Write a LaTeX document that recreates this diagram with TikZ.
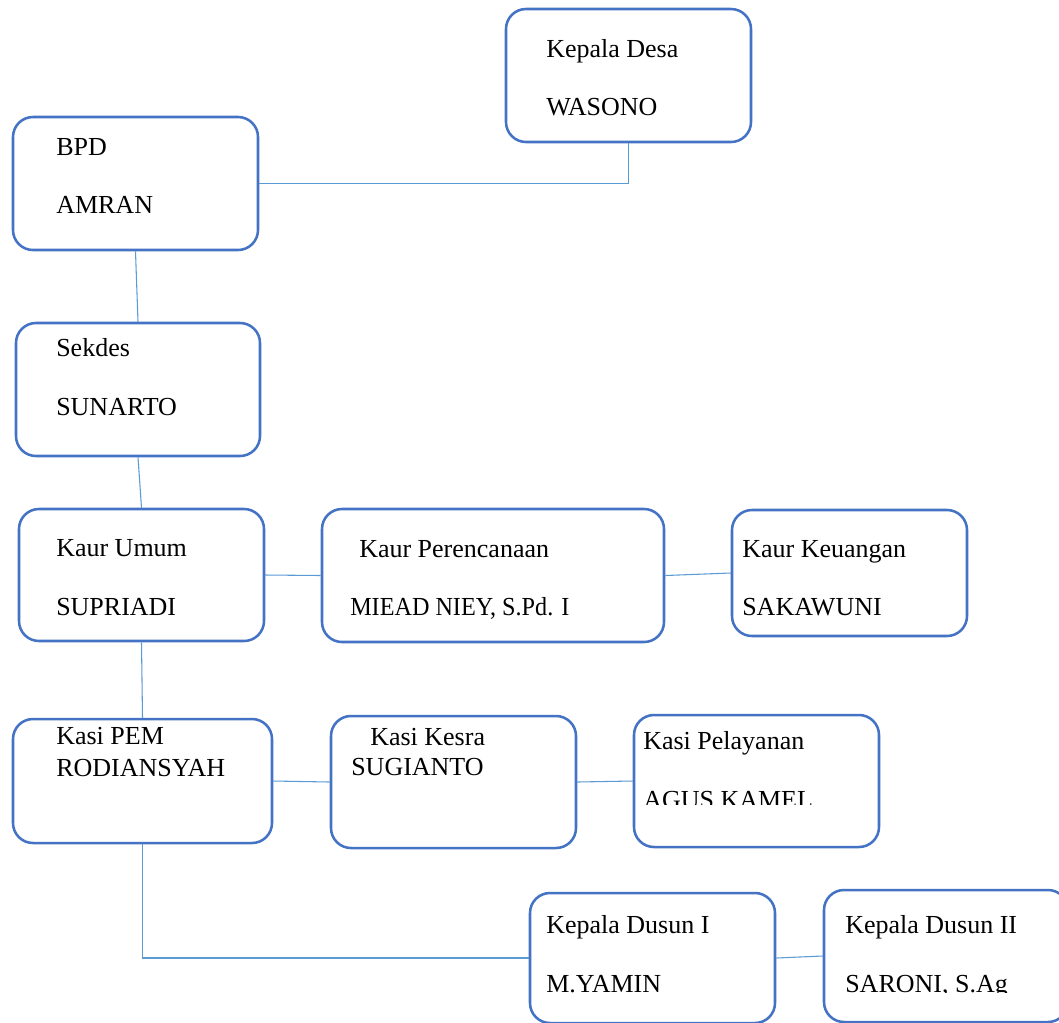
\documentclass[tikz,border=0pt]{standalone}
\usepackage{fontspec}
\setmainfont{Liberation Serif}
\definecolor{boxblue}{HTML}{4472C4}
\definecolor{linkblue}{HTML}{5B9BD5}
\begin{document}
\begin{tikzpicture}[x=0.75pt,y=-0.75pt,
  box/.style={draw=boxblue,line width=1.9pt,rounded corners=15pt,fill=white,inner sep=0pt},
  link/.style={draw=linkblue,line width=0.8pt},
  lbl/.style={anchor=base west,inner sep=0pt,font=\fontsize{19.5pt}{23pt}\selectfont}]
\clip (0,0) rectangle (1059,1022);
\fill[white] (0,0) rectangle (1059,1022);
% boxes
\node[box,minimum width=245*0.75pt,minimum height=133*0.75pt] (desa) at (628.5,75.5) {};
\node[box,minimum width=245*0.75pt,minimum height=133*0.75pt] (bpd) at (135.5,183.5) {};
\node[box,minimum width=244*0.75pt,minimum height=133*0.75pt] (sekdes) at (138,389.5) {};
\node[box,minimum width=245*0.75pt,minimum height=132*0.75pt] (kumum) at (141.5,575) {};
\node[box,minimum width=342*0.75pt,minimum height=133*0.75pt] (kperen) at (493,575.5) {};
\node[box,minimum width=235*0.75pt,minimum height=126*0.75pt] (kkeu) at (849.5,573) {};
\node[box,minimum width=259*0.75pt,minimum height=124*0.75pt] (kpem) at (142.5,781) {};
\node[box,minimum width=245*0.75pt,minimum height=132*0.75pt] (kkesra) at (453.5,782) {};
\node[box,minimum width=245*0.75pt,minimum height=132*0.75pt] (kpel) at (756.5,781) {};
\node[box,minimum width=245*0.75pt,minimum height=130*0.75pt] (dusun1) at (652.5,958) {};
\node[box,minimum width=244*0.75pt,minimum height=132*0.75pt] (dusun2) at (946,956) {};
% connectors
\draw[link] (bpd.east) -| (desa.south);
\draw[link] (bpd.south) -- (sekdes.north);
\draw[link] (sekdes.south) -- (kumum.north);
\draw[link] (kumum.east) -- (kperen.west);
\draw[link] (kperen.east) -- (kkeu.west);
\draw[link] (kumum.south) -- (kpem.north);
\draw[link] (kpem.east) -- (kkesra.west);
\draw[link] (kkesra.east) -- (kpel.west);
\draw[link] (kpem.south) |- (dusun1.west);
\draw[link] (dusun1.east) -- (dusun2.west);
% labels
\node[lbl] (t1) at (546,57) {Kepala Desa};
\node[lbl] (t2) at (546,115) {WASONO};
\node[lbl] (t3) at (56,155) {BPD};
\node[lbl] (t4) at (56,213) {AMRAN};
\node[lbl] (t5) at (56,356) {Sekdes};
\node[lbl] (t6) at (56,415) {SUNARTO};
\node[lbl] (t7) at (56,556) {Kaur Umum};
\node[lbl] (t8) at (56,615) {SUPRIADI};
\node[lbl] (t9) at (359,557) {Kaur Perencanaan};
\node[lbl,xscale=0.93] (t10) at (350,615) {MIEAD NIEY, S.Pd. I};
\node[lbl] (t11) at (742,557) {Kaur Keuangan};
\node[lbl] (t12) at (742,615) {SAKAWUNI};
\node[lbl] (t13) at (56,744) {Kasi PEM};
\node[lbl] (t14) at (56,776) {RODIANSYAH};
\node[lbl] (t15) at (370,745) {Kasi Kesra};
\node[lbl] (t16) at (351,775) {SUGIANTO};
\node[lbl] (t17) at (643,749) {Kasi Pelayanan};
\begin{scope}
\clip (636,700) rectangle (876,804);
\node[lbl] (t18) at (643,808) {AGUS KAMEL};
\end{scope}
\node[lbl] (t19) at (546,933) {Kepala Dusun I};
\node[lbl] (t20) at (546,992) {M.YAMIN};
\node[lbl] (t21) at (845,933) {Kepala Dusun II};
\begin{scope}
\clip (826,900) rectangle (1059,992);
\node[lbl] (t22) at (845,992) {SARONI, S.Ag};
\end{scope}
\end{tikzpicture}
\end{document}
